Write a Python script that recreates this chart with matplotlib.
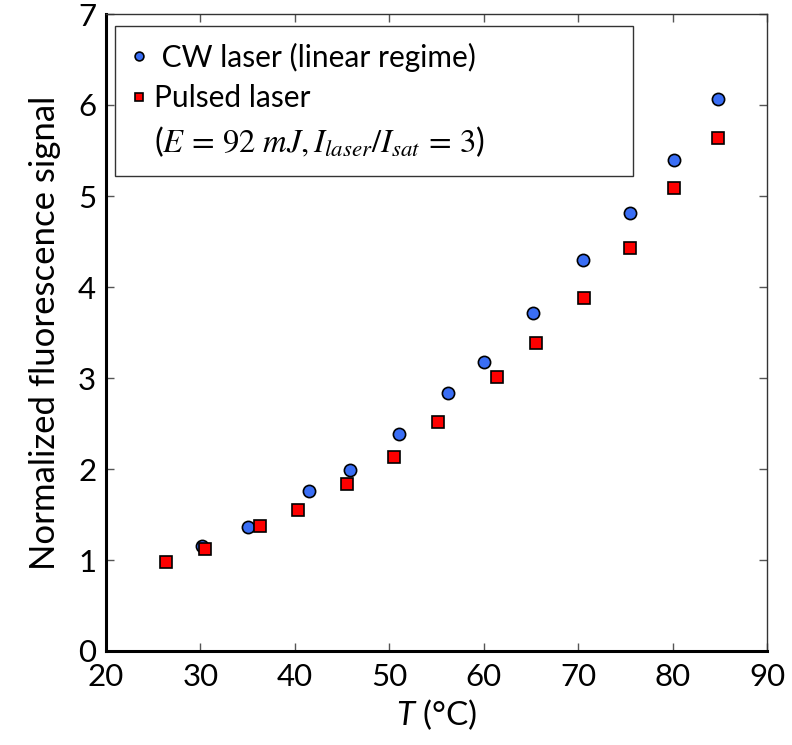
import matplotlib
matplotlib.use("Agg")
import matplotlib.pyplot as plt

plt.rcParams['font.family'] = ['Lato', 'DejaVu Sans']
plt.rcParams['mathtext.fontset'] = 'stix'
plt.rcParams['mathtext.it'] = 'Lato:italic'
plt.rcParams['mathtext.rm'] = 'Lato'

cw_T = [30.2, 35.0, 41.5, 45.8, 51.0, 56.2, 60.0, 65.2, 70.5, 75.5, 80.2, 84.8]
cw_S = [1.15, 1.36, 1.76, 1.99, 2.39, 2.83, 3.18, 3.71, 4.30, 4.81, 5.40, 6.07]

pl_T = [26.4, 30.5, 36.3, 40.3, 45.5, 50.5, 55.2, 61.4, 65.5, 70.6, 75.5, 80.2, 84.8]
pl_S = [0.98, 1.12, 1.37, 1.55, 1.84, 2.13, 2.52, 3.01, 3.38, 3.88, 4.43, 5.09, 5.64]

xticks = [20, 30, 40, 50, 60, 70, 80, 90]
yticks = [0, 1, 2, 3, 4, 5, 6, 7]

fig = plt.figure(figsize=(7.92, 7.45), dpi=100)
ax = fig.add_axes([106/792, 1-651/745, (767-106)/792, (651-14)/745])

ax.plot(cw_T, cw_S, 'o', ms=8.8, mfc='#3a6ef5', mec='black', mew=1.2, ls='none',
        label=' CW laser (linear regime)')
ax.plot(pl_T, pl_S, 's', ms=8.8, mfc='#ff0000', mec='black', mew=1.2, ls='none',
        label='Pulsed laser')
ax.plot([], [], ' ', label='($E\\,=\\,92\\ mJ, I_{laser}/I_{sat}\\,=\\,3$)')

ax.set_xlim(20, 90)
ax.set_ylim(0, 7)
ax.set_xticks(xticks)
ax.set_yticks(yticks)
ax.tick_params(direction='in', length=6, width=1, top=True, right=True,
               labelsize=22.5, color='#555555')
ax.tick_params(axis='x', pad=9)
ax.tick_params(axis='y', pad=7)
for s in ['left', 'bottom']:
    ax.spines[s].set_linewidth(2.2)
for s in ['top', 'right']:
    ax.spines[s].set_linewidth(1.0)
    ax.spines[s].set_color('#333333')

xl = ax.set_xlabel('$T$ (°C)', fontsize=24, labelpad=4)
xl.set_math_fontfamily('custom')
ax.set_ylabel('Normalized fluorescence signal', fontsize=25, labelpad=12)

x0 = (115 - 106) / 661
x1 = (633 - 106) / 661
ytop = (651 - 26) / 637
leg = ax.legend(loc='upper left', bbox_to_anchor=(x0, 0.3, x1 - x0, ytop - 0.3),
                mode='expand', fontsize=21.5, markerscale=0.72,
                frameon=True, fancybox=False, edgecolor='black',
                handlelength=0.5, handletextpad=0.25, borderpad=0.55,
                labelspacing=0.42, borderaxespad=0.0)
leg.get_frame().set_linewidth(1.0)
texts = leg.get_texts()
texts[2].set_math_fontfamily('stix')
texts[2].set_fontsize(23.5)

fig.savefig('out.png', dpi=100)
